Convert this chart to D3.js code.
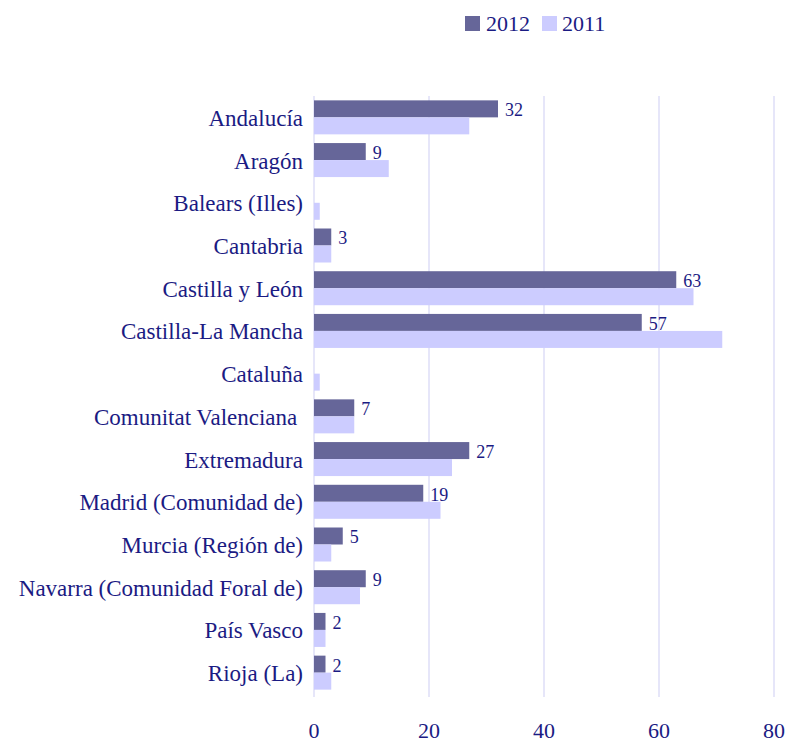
<!DOCTYPE html>
<html>
<head>
<meta charset="utf-8">
<script src="https://cdn.jsdelivr.net/npm/d3@7"></script>
</head>
<body style="margin:0">
<svg id="chart" width="785" height="742"></svg>
<script>
const categories = [
  "Andalucía", "Aragón", "Balears (Illes)", "Cantabria", "Castilla y León",
  "Castilla-La Mancha", "Cataluña", "Comunitat Valenciana\u00a0", "Extremadura",
  "Madrid (Comunidad de)", "Murcia (Región de)", "Navarra (Comunidad Foral de)",
  "País Vasco", "Rioja (La)"
];
const values2012 = [32, 9, null, 3, 63, 57, null, 7, 27, 19, 5, 9, 2, 2];
const values2011 = [27, 13, 1, 3, 66, 71, 1, 7, 24, 22, 3, 8, 2, 3];
const seriesNames = ["2012", "2011"];
const xTicks = [0, 20, 40, 60, 80];

const colors = { "2012": "#666699", "2011": "#ccccff" };
const gridColor = "#e0e0f8";
const textColor = "#1b1b83";
const FONT = "'Liberation Serif'";

const svg = d3.select("#chart");

const x = d3.scaleLinear().domain([0, 80]).range([314, 774]);
const y = d3.scaleBand().domain(categories).range([96, 694])
  .paddingInner(0.204).paddingOuter(0.102);
const sub = d3.scaleBand().domain(seriesNames).range([0, y.bandwidth()]);

// gridlines
svg.append("g").selectAll("line").data(xTicks).join("line")
  .attr("x1", d => x(d)).attr("x2", d => x(d))
  .attr("y1", 96).attr("y2", 697)
  .attr("stroke", gridColor).attr("stroke-width", 1.6);

// bars
const rows = categories.map((c, i) => ({ cat: c, v2012: values2012[i], v2011: values2011[i] }));
const g = svg.append("g");
rows.forEach(r => {
  [["2012", r.v2012], ["2011", r.v2011]].forEach(([s, v]) => {
    if (v == null) return;
    g.append("rect")
      .attr("x", x(0))
      .attr("y", y(r.cat) + sub(s))
      .attr("width", x(v) - x(0))
      .attr("height", sub.bandwidth())
      .attr("fill", colors[s]);
  });
});

// data labels for 2012
svg.append("g")
  .selectAll("text").data(rows.filter(r => r.v2012 != null)).join("text")
  .attr("font-family", FONT).attr("fill", textColor)
  .attr("x", r => x(r.v2012) + 7)
  .attr("y", r => y(r.cat) + sub("2012") + sub.bandwidth() / 2 + 7.5)
  .attr("font-size", 18)
  .text(r => r.v2012);

// category labels
svg.append("g")
  .selectAll("text").data(categories).join("text")
  .attr("font-family", FONT).attr("fill", textColor)
  .attr("x", 303)
  .attr("y", c => y(c) + y.bandwidth() / 2 + 8.5)
  .attr("text-anchor", "end")
  .attr("font-size", 23)
  .text(c => c);

// x axis tick labels
svg.append("g")
  .selectAll("text").data(xTicks).join("text")
  .attr("font-family", FONT).attr("fill", textColor)
  .attr("x", d => x(d))
  .attr("y", 738)
  .attr("text-anchor", "middle")
  .attr("font-size", 22)
  .text(d => d);

// legend
const legend = svg.append("g");
const legendItems = [
  { name: "2012", rx: 465, tx: 486 },
  { name: "2011", rx: 542, tx: 562 }
];
legendItems.forEach(it => {
  legend.append("rect").attr("x", it.rx).attr("y", 16).attr("width", 15).attr("height", 15)
    .attr("fill", colors[it.name]);
  legend.append("text").attr("font-family", FONT).attr("fill", textColor)
    .attr("x", it.tx).attr("y", 31).attr("font-size", 22).text(it.name);
});
</script>
</body>
</html>
